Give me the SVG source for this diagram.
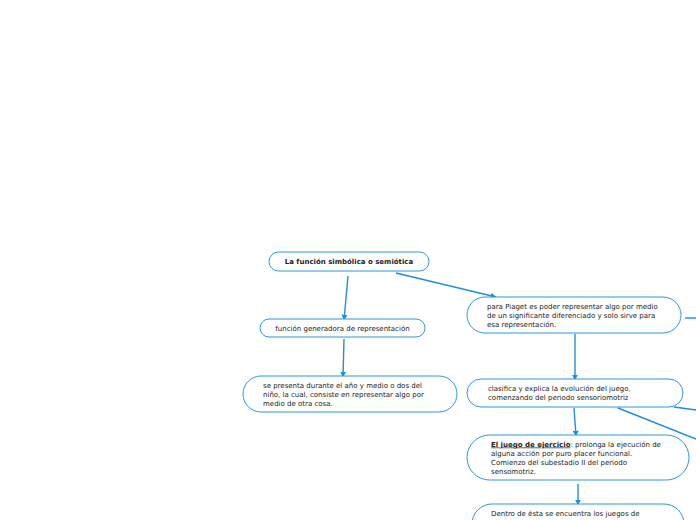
<svg xmlns="http://www.w3.org/2000/svg" width="696" height="520" viewBox="0 0 696 520">
<defs>
<marker id="ah" viewBox="0 0 10 10" refX="9" refY="5" markerWidth="6" markerHeight="6" markerUnits="userSpaceOnUse" orient="auto">
<path d="M0,0 L10,5 L0,10 z" fill="#1d8fdf"/>
</marker>
</defs>
<style>
.n{fill:#ffffff;stroke:#2d97e3;stroke-width:1}
.t{font-family:"DejaVu Sans",Verdana,sans-serif;font-size:7px;fill:#222}
.b{font-weight:bold}
.c{stroke:#1d8fdf;stroke-width:1.4;fill:none}
</style>
<rect width="696" height="520" fill="#ffffff"/>
<g id="connectors">
<line class="c" x1="348" y1="276" x2="344" y2="320" marker-end="url(#ah)"/>
<line class="c" x1="396" y1="273" x2="496" y2="297" marker-end="url(#ah)"/>
<line class="c" x1="344" y1="339" x2="343" y2="377" marker-end="url(#ah)"/>
<line class="c" x1="575" y1="334" x2="575" y2="380" marker-end="url(#ah)"/>
<line class="c" x1="574" y1="408" x2="576" y2="436" marker-end="url(#ah)"/>
<line class="c" x1="578" y1="484" x2="578" y2="505" marker-end="url(#ah)"/>
<line class="c" x1="685" y1="318" x2="696" y2="318"/>
<line class="c" x1="674" y1="407" x2="696" y2="410"/>
<line class="c" x1="618" y1="408" x2="696" y2="439"/>
</g>
<g id="n1">
<rect class="n" x="269" y="252" width="160" height="19" rx="9.5"/>
<text class="t b" x="349" y="264" text-anchor="middle">La función simbólica o semiótica</text>
</g>
<g id="n2">
<rect class="n" x="260" y="319" width="165" height="18" rx="9"/>
<text class="t" x="342.5" y="330.5" text-anchor="middle">función generadora de representación</text>
</g>
<g id="n3">
<rect class="n" x="243" y="376" width="214" height="36" rx="18"/>
<text class="t" x="263" y="387.5">se presenta durante el año y medio o dos del</text>
<text class="t" x="263" y="396.5">niño, la cual, consiste en representar algo por</text>
<text class="t" x="263" y="405.5">medio de otra cosa.</text>
</g>
<g id="n4">
<rect class="n" x="467" y="297" width="214" height="36" rx="18"/>
<text class="t" x="487" y="308.5">para Piaget es poder representar algo por medio</text>
<text class="t" x="487" y="317.5">de un significante diferenciado y solo sirve para</text>
<text class="t" x="487" y="326.5">esa representación.</text>
</g>
<g id="n5">
<rect class="n" x="467" y="379" width="216" height="28" rx="14"/>
<text class="t" x="488" y="390.5">clasifica y explica la evolución del juego,</text>
<text class="t" x="488" y="399.5">comenzando del periodo sensoriomotriz</text>
</g>
<g id="n6">
<rect class="n" x="467" y="435" width="222" height="45" rx="22.5"/>
<text class="t" x="491" y="446.5"><tspan class="b" text-decoration="underline">El juego de ejercicio</tspan>: prolonga la ejecución de</text>
<text class="t" x="491" y="455.5">alguna acción por puro placer funcional.</text>
<text class="t" x="491" y="464.5">Comienzo del subestadio II del periodo</text>
<text class="t" x="491" y="473.5">sensomotriz.</text>
</g>
<g id="n7">
<rect class="n" x="472" y="504" width="212" height="40" rx="20"/>
<text class="t" x="491" y="515.5">Dentro de ésta se encuentra los juegos de</text>
</g>
</svg>
